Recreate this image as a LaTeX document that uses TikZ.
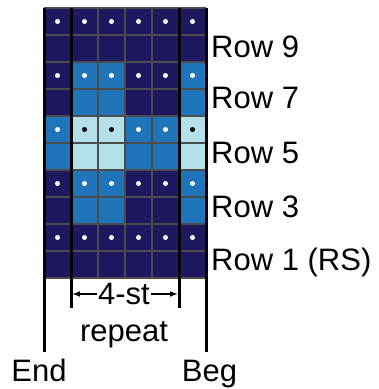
\documentclass[tikz,border=0pt]{standalone}
\usepackage{fontspec}
\setmainfont{Liberation Sans}
\definecolor{nv}{RGB}{30,24,96}
\definecolor{md}{RGB}{32,116,186}
\definecolor{lt}{RGB}{180,224,234}
\colorlet{dotnv}{white}
\colorlet{dotmd}{white}
\colorlet{dotlt}{black}
\tikzset{
  gridline/.style={line width=1.2pt, draw=black!70},
  bar/.style={line width=3pt, draw=black},
  lab/.style={inner sep=0pt, font=\fontsize{31}{36}\selectfont},
}
\begin{document}
\begin{tikzpicture}[x=1pt,y=-1pt]
\useasboundingbox (0,0) rectangle (379,389);
\foreach \rw/\dt/\cells in {10/1/{nv,nv,nv,nv,nv,nv}, 9/0/{nv,nv,nv,nv,nv,nv},
    8/1/{nv,md,md,nv,nv,md}, 7/0/{nv,md,md,nv,nv,md},
    6/1/{md,lt,lt,md,md,lt}, 5/0/{md,lt,lt,md,md,lt},
    4/1/{nv,md,md,nv,nv,md}, 3/0/{nv,md,md,nv,nv,md},
    2/1/{nv,nv,nv,nv,nv,nv}, 1/0/{nv,nv,nv,nv,nv,nv}}
  \foreach \c [count=\i] in \cells {
    \fill [\c] ({17+27*\i},{8+27*(10-\rw)}) rectangle +(27,27);
    \ifnum\dt=1 \fill [dot\c] ({30.5+27*\i},{21.5+27*(10-\rw)}) circle (2.5); \fi
  }
\foreach \k in {0,...,10}
  \draw [gridline] (44,{8+27*\k}) -- (206,{8+27*\k});
\foreach \k in {2,3,4}
  \draw [gridline] ({44+27*\k},8) -- ({44+27*\k},278);
\coordinate (endtop) at (44,8);
\coordinate (endbot) at (44,352);
\coordinate (lfttop) at (71,8);
\coordinate (lftbot) at (71,308);
\coordinate (rgttop) at (179,8);
\coordinate (rgtbot) at (179,308);
\coordinate (begtop) at (206,8);
\coordinate (begbot) at (206,352);
\draw [bar] (endtop) -- (endbot);
\draw [bar] (lfttop) -- (lftbot);
\draw [bar] (rgttop) -- (rgtbot);
\draw [bar] (begtop) -- (begbot);
\node [lab, anchor=base west] (row9) at (211,57) {Row 9};
\node [lab, anchor=base west] (row7) at (211,108) {Row 7};
\node [lab, anchor=base west] (row5) at (211,163) {Row 5};
\node [lab, anchor=base west] (row3) at (211,217) {Row 3};
\node [lab, anchor=base west] (row1) at (211,270) {Row 1 (RS)};
\node [lab, inner xsep=1pt] (st) at (124,294) {4-st};
\coordinate (al) at (72.5,294);
\coordinate (ar) at (177.5,294);
\draw [-latex, line width=1.5pt] (st.west) -- (al);
\draw [-latex, line width=1.5pt] (st.east) -- (ar);
\node [lab, anchor=base] (rep) at (124,341) {repeat};
\node [lab, anchor=base] (end) at (39,381) {End};
\node [lab, anchor=base] (beg) at (209.5,381) {Beg};
\end{tikzpicture}
\end{document}
